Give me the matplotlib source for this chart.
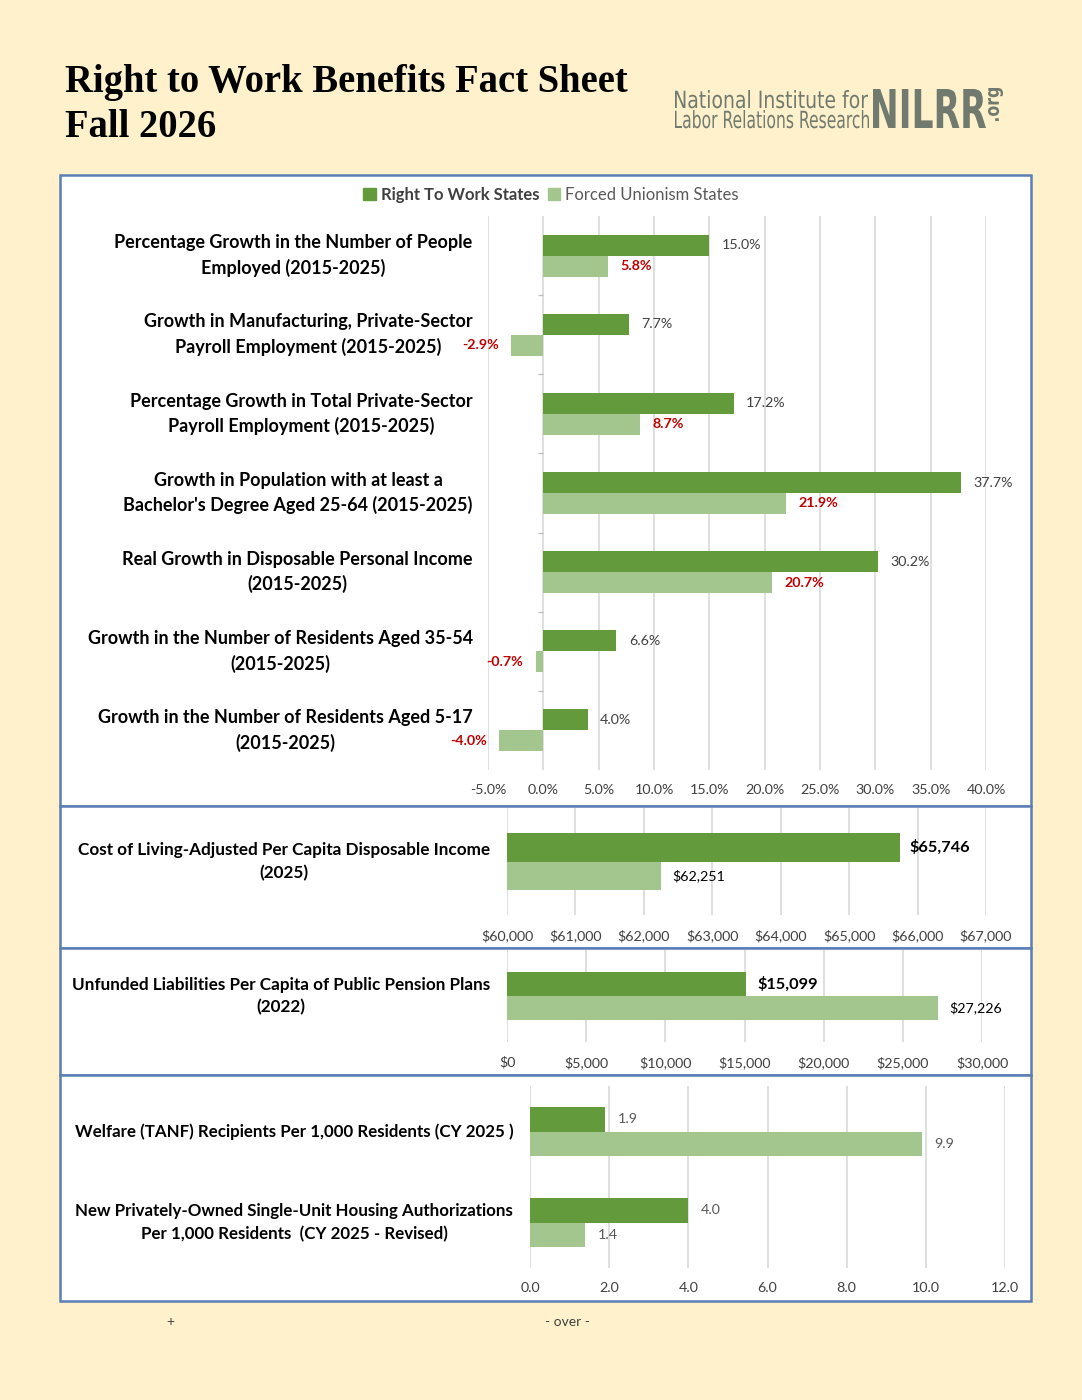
import matplotlib
matplotlib.use("Agg")
import matplotlib.pyplot as plt
from matplotlib.patches import Rectangle, Patch, PathPatch
from matplotlib.ticker import FuncFormatter
from matplotlib.textpath import TextPath
from matplotlib.font_manager import FontProperties
from matplotlib.transforms import Affine2D
import numpy as np

W, H = 1082, 1400
BG = '#FEF1CC'
DARK = '#629A3C'
LIGHT = '#A2C68E'
BORDER = '#5B7FB4'
GRID = '#D9D9D9'
RED = '#C00000'
TXT = '#404040'
LOGO = '#717A6E'

plt.rcParams['font.family'] = ['Lato', 'DejaVu Sans']

# --- data ---
growth_labels = [
    "Percentage Growth in the Number of People\nEmployed (2015-2025)",
    "Growth in Manufacturing, Private-Sector\nPayroll Employment (2015-2025)",
    "Percentage Growth in Total Private-Sector\nPayroll Employment (2015-2025)",
    "Growth in Population with at least a\nBachelor's Degree Aged 25-64 (2015-2025)",
    "Real Growth in Disposable Personal Income\n(2015-2025)",
    "Growth in the Number of Residents Aged 35-54\n(2015-2025)",
    "Growth in the Number of Residents Aged 5-17\n(2015-2025)",
]
rtw_growth = [15.0, 7.7, 17.2, 37.7, 30.2, 6.6, 4.0]
fu_growth = [5.8, -2.9, 8.7, 21.9, 20.7, -0.7, -4.0]
growth_ticks = np.arange(-5, 41, 5)

income_labels = ["Cost of Living-Adjusted Per Capita Disposable Income\n(2025)"]
rtw_income = [65746]
fu_income = [62251]
income_ticks = np.arange(60000, 67001, 1000)

pension_labels = ["Unfunded Liabilities Per Capita of Public Pension Plans\n(2022)"]
rtw_pension = [15099]
fu_pension = [27226]
pension_ticks = np.arange(0, 30001, 5000)

ratio_labels = [
    "Welfare (TANF) Recipients Per 1,000 Residents (CY 2025 )",
    "New Privately-Owned Single-Unit Housing Authorizations\nPer 1,000 Residents  (CY 2025 - Revised)",
]
rtw_ratio = [1.9, 4.0]
fu_ratio = [9.9, 1.4]
ratio_ticks = np.arange(0, 12.1, 2)

fig = plt.figure(figsize=(W / 100, H / 100), dpi=100)
fig.patch.set_facecolor(BG)


def px_axes(l, t, r, b):
    return fig.add_axes([l / W, 1 - b / H, (r - l) / W, (b - t) / H])


def frame(t, b):
    fig.patches.append(Rectangle((60 / W, 1 - b / H), (1031 - 60) / W, (b - t) / H,
                                 transform=fig.transFigure, facecolor='white',
                                 edgecolor=BORDER, lw=1.8, zorder=-5))


def hbars(ax, labels, rtw, fu, ticks, fmt, lab_size, tick_pad, label_pad=12):
    bh = 0.265
    y = np.arange(len(labels))
    c1 = ax.barh(y - bh / 2, rtw, height=bh, color=DARK, zorder=2)
    c2 = ax.barh(y + bh / 2, fu, height=bh, color=LIGHT, zorder=2)
    ax.set_xlim(ticks[0], ticks[-1])
    ax.set_ylim(len(labels) - 0.5, -0.5)
    ax.set_xticks(ticks)
    ax.xaxis.set_major_formatter(FuncFormatter(lambda v, p: fmt(v)))
    ax.set_yticks(y)
    ax.set_yticklabels(labels, fontsize=lab_size, fontweight='bold', color='black')
    for t in ax.get_yticklabels():
        t.set_multialignment('center')
        t.set_verticalalignment('center')
        t.set_linespacing(1.5)
    ax.tick_params(axis='y', length=0, pad=label_pad)
    ax.tick_params(axis='x', length=0, pad=tick_pad, labelsize=10.3, labelcolor=TXT)
    ax.grid(axis='x', color=GRID, lw=1.2, zorder=0)
    ax.set_axisbelow(True)
    for s in ax.spines.values():
        s.set_visible(False)
    ax.patch.set_alpha(0)
    return c1, c2


def logo_text(s, x0, x1, top, base, weight='normal'):
    # squeeze a text outline into the pixel box of the printed logo
    tp = TextPath((0, 0), s, size=100, prop=FontProperties(family='DejaVu Sans', weight=weight))
    ext = tp.get_extents()
    tr = (Affine2D().translate(-ext.x0, 0)
          .scale((x1 - x0) / ext.width, (base - top) / ext.y1)
          .translate(x0, H - base))
    fig.patches.append(PathPatch(tp, transform=tr, facecolor=LOGO, lw=0))


frame(175, 806)
frame(806, 948)
frame(948, 1075)
frame(1075, 1301)

# panel 1: growth rates
ax1 = px_axes(488, 216, 986, 770)
c1, c2 = hbars(ax1, growth_labels, rtw_growth, fu_growth, growth_ticks,
               lambda v: f"{v:.1f}%", 13, 10, label_pad=11)
ax1.bar_label(c1, labels=[f"{v:.1f}%" for v in rtw_growth], padding=9,
              fontsize=10.3, color=TXT)
ax1.bar_label(c2, labels=[f"{v:.1f}%" for v in fu_growth], padding=9,
              fontsize=10.3, color=RED, fontweight='bold')
ax1.hlines(np.arange(len(growth_labels) - 1) + 0.5, -0.45, 0, color='#BFBFBF', lw=1)

ax1_handles = [Patch(color=DARK, label='Right To Work States'),
               Patch(color=LIGHT, label='Forced Unionism States')]
leg = fig.legend(handles=ax1_handles, loc='center', bbox_to_anchor=(551 / W, 1 - 195 / H),
                 ncol=2, frameon=False, handlelength=0.75, handleheight=0.75,
                 handletextpad=0.3, columnspacing=0.5, fontsize=12)
leg.get_texts()[0].set_fontweight('bold')
leg.get_texts()[0].set_color(TXT)
leg.get_texts()[1].set_color('#595959')

# panel 2: income
ax2 = px_axes(507, 808, 986, 915)
c1, c2 = hbars(ax2, income_labels, rtw_income, fu_income, income_ticks,
               lambda v: f"${v:,.0f}", 12.3, 10, label_pad=12)
ax2.bar_label(c1, labels=[f"${v:,.0f}" for v in rtw_income], padding=7,
              fontsize=11.8, fontweight='bold', color='black')
ax2.bar_label(c2, labels=[f"${v:,.0f}" for v in fu_income], padding=8,
              fontsize=10.3, color='black')

# panel 3: pensions
ax3 = px_axes(507, 950, 982, 1042)
c1, c2 = hbars(ax3, pension_labels, rtw_pension, fu_pension, pension_ticks,
               lambda v: f"${v:,.0f}", 12.3, 10, label_pad=12)
ax3.bar_label(c1, labels=[f"${v:,.0f}" for v in rtw_pension], padding=8,
              fontsize=11.8, fontweight='bold', color='black')
ax3.bar_label(c2, labels=[f"${v:,.0f}" for v in fu_pension], padding=8,
              fontsize=10.3, color='black')

# panel 4: per 1,000 residents
ax4 = px_axes(530, 1086, 1005, 1268)
c1, c2 = hbars(ax4, ratio_labels, rtw_ratio, fu_ratio, ratio_ticks,
               lambda v: f"{v:.1f}", 12.2, 10, label_pad=12)
ax4.bar_label(c1, labels=[f"{v:.1f}" for v in rtw_ratio], padding=9,
              fontsize=10.3, color='#595959')
ax4.bar_label(c2, labels=[f"{v:.1f}" for v in fu_ratio], padding=9,
              fontsize=10.3, color='#595959')

# header
fig.text(65 / W, 1 - 92 / H, "Right to Work Benefits Fact Sheet", family='Liberation Serif',
         fontweight='bold', fontsize=27.8, va='baseline', color='black')
fig.text(65 / W, 1 - 137 / H, "Fall 2026", family='Liberation Serif',
         fontweight='bold', fontsize=27.8, va='baseline', color='black')

logo_text("National Institute for", 675, 868, 90, 108)
logo_text("Labor Relations Research", 675, 869, 110, 128)
logo_text("NILRR", 873, 986, 89, 128, weight='bold')
org = TextPath((0, 0), ".org", size=100, prop=FontProperties(family='DejaVu Sans', weight='bold'))
oe = org.get_extents()
fig.patches.append(PathPatch(
    org, facecolor=LOGO, lw=0,
    transform=(Affine2D().translate(-oe.x0, -oe.y0)
               .scale(33 / oe.width, 15 / oe.height)
               .rotate_deg(90).translate(1003, H - 121))))

# footer
fig.text(170 / W, 1 - 1322 / H, "+", fontsize=10, ha='center', va='center', color=TXT)
fig.text(567 / W, 1 - 1322 / H, "- over -", fontsize=10, ha='center', va='center', color=TXT)

fig.savefig("out.png", dpi=100, facecolor=BG)
